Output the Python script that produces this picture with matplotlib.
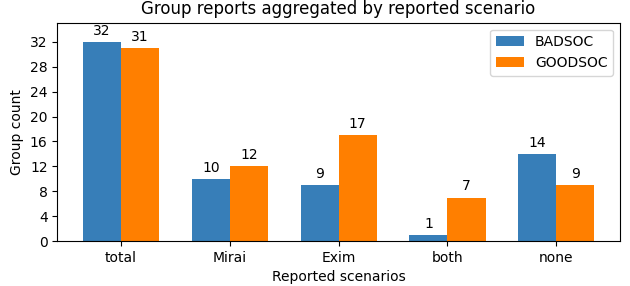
import numpy as np
import matplotlib; matplotlib.use('Agg')
import matplotlib.pyplot as plt

scenarios = ['total', 'Mirai', 'Exim', 'both', 'none']
badsoc = [32, 10, 9, 1, 14]
goodsoc = [31, 12, 17, 7, 9]

fig, ax = plt.subplots(figsize=(6.3, 2.86), dpi=100)
x = np.arange(len(scenarios))
w = 0.35
b1 = ax.bar(x - w/2, badsoc, w, label='BADSOC', color='#377eb8')
b2 = ax.bar(x + w/2, goodsoc, w, label='GOODSOC', color='#ff7f00')
ax.bar_label(b1, padding=3)
ax.bar_label(b2, padding=3)
ax.set_xticks(x)
ax.set_xticklabels(scenarios)
ax.set_yticks(np.arange(0, 33, 4))
ax.set_ylim(0, 35.1)
ax.set_xlabel('Reported scenarios')
ax.set_ylabel('Group count')
ax.set_title('Group reports aggregated by reported scenario')
ax.legend(loc='upper right')
fig.subplots_adjust(left=0.091, right=0.984, top=0.921, bottom=0.157)
fig.savefig('out.png', dpi=100)
